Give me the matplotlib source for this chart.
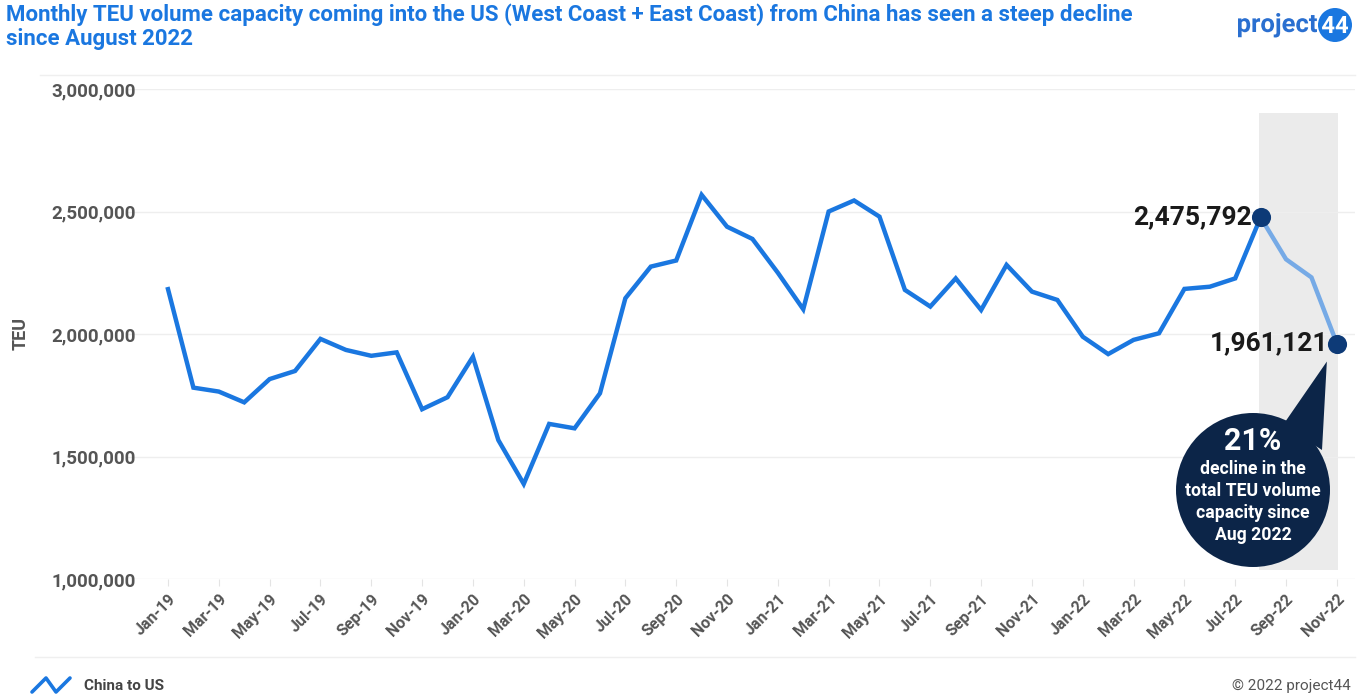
import matplotlib
matplotlib.use("Agg")
import matplotlib.pyplot as plt
from matplotlib.patches import Circle, Polygon, PathPatch
from matplotlib.lines import Line2D
from matplotlib.textpath import TextPath
from matplotlib.font_manager import FontProperties
from matplotlib.transforms import Affine2D
import numpy as np

# Monthly TEU volume capacity, China -> US (West Coast + East Coast)
month_names = ["Jan", "Feb", "Mar", "Apr", "May", "Jun",
               "Jul", "Aug", "Sep", "Oct", "Nov", "Dec"]
years = ["19", "20", "21", "22"]
months = [f"{m}-{y}" for y in years for m in month_names][:47]

teu = [2183000, 1781000, 1765000, 1721000, 1816000, 1849000,
       1980000, 1935000, 1911000, 1925000, 1693000, 1742000,
       1907000, 1567000, 1388000, 1633000, 1615000, 1758000,
       2146000, 2275000, 2300000, 2568000, 2438000, 2388000,
       2250000, 2101000, 2500000, 2545000, 2479000, 2180000,
       2112000, 2227000, 2098000, 2282000, 2173000, 2139000,
       1989000, 1918000, 1976000, 2003000, 2184000, 2193000,
       2227000, 2475792, 2305000, 2231000, 1961121]

peak_label = "Aug-22"
decline_pct = 21
y_ticks = [1000000, 1500000, 2000000, 2500000, 3000000]

BLUE = "#1a77e0"
LIGHT_BLUE = "#76aae6"
NAVY = "#0d3a77"
CALLOUT = "#0c2548"
GREY_TXT = "#555555"

plt.rcParams["font.family"] = ["Roboto", "DejaVu Sans"]

W, H = 1357, 697
fig = plt.figure(figsize=(W / 100, H / 100), dpi=100)


def fx(px):
    return px / W


def fy(py):
    return 1 - py / H


def fitted_text(s, x0, baseline, width, height, color, weight="bold"):
    """Draw text as a path stretched to a box (pixels, y from top)."""
    tp = TextPath((0, 0), s, size=100,
                  prop=FontProperties(family="Roboto", weight=weight))
    ext = tp.get_extents()
    sx = width / ext.width
    sy = height / ext.y1
    tr = (Affine2D().translate(-ext.x0, 0).scale(sx, sy)
          .translate(x0, H - baseline))
    patch = PathPatch(tr.transform_path(tp), color=color, lw=0,
                      transform=None)
    fig.add_artist(patch)


ax = fig.add_axes([fx(128), fy(579), fx(1355) - fx(128), fy(89) - fy(579)])

x = np.arange(len(teu))
i_peak = months.index(peak_label)
i_last = len(teu) - 1

# shaded decline window
ax.axvspan(i_peak - 0.05, i_last + 0.05, ymin=0.018, ymax=0.951,
           color="#ebebeb", zorder=0, lw=0)

ax.plot(x[:i_peak + 1], teu[:i_peak + 1], color=BLUE, lw=3.2,
        solid_joinstyle="miter", zorder=3)
ax.plot(x[i_peak:], teu[i_peak:], color=LIGHT_BLUE, lw=3.2,
        solid_joinstyle="miter", zorder=3)
ax.scatter([i_peak, i_last], [teu[i_peak], teu[i_last]], s=190,
           color=NAVY, zorder=5, lw=0)

for i in (i_peak, i_last):
    ax.annotate(f"{teu[i]:,}", (i, teu[i]), xytext=(-6, 0),
                textcoords="offset points", ha="right", va="center",
                fontsize=19, fontweight="bold", color="#1a1a1a", zorder=6)

ax.set_xlim((128 - 168) / 25.41, (1355 - 168) / 25.41)
ax.set_ylim(y_ticks[0], y_ticks[-1])
ax.set_yticks(y_ticks)
ax.set_yticklabels([f"{v:,}" for v in y_ticks], fontsize=13.5,
                   fontweight="bold", color=GREY_TXT)
ax.yaxis.grid(True, color="#eeeeee", lw=1)
ax.set_axisbelow(True)
ax.tick_params(axis="y", length=0, pad=-6)

ax.set_xticks(x[::2])
ax.set_xticklabels(months[::2], rotation=45, ha="right",
                   rotation_mode="anchor", fontsize=11.5,
                   fontweight="bold", color=GREY_TXT)
ax.tick_params(axis="x", length=5, color="#e4e4e4", pad=4)

for s in ax.spines.values():
    s.set_visible(False)

ax.set_ylabel("TEU", fontsize=13, fontweight="bold", color=GREY_TXT,
              labelpad=16)

# title
fig.text(fx(6), fy(3), "Monthly TEU volume capacity coming into the US "
         "(West Coast + East Coast) from China has seen a steep decline\n"
         "since August 2022", ha="left", va="top", fontsize=16,
         fontweight="bold", color=BLUE, linespacing=1.12)

# logo
fitted_text("project", 1238, 32, 79, 19, "#2a6fd0")
fig.add_artist(Circle((1335, H - 25), 17, transform=None,
                      color=BLUE, lw=0))
fitted_text("44", 1322, 33, 26, 17, "white")

# separators
fig.add_artist(Line2D([fx(40), fx(1355)], [fy(75), fy(75)],
                      color="#efefef", lw=1))
fig.add_artist(Line2D([fx(35), fx(1355)], [fy(657), fy(657)],
                      color="#efefef", lw=1))

# callout bubble
cx, cy, r = 1253, 490, 77
fig.canvas.draw()
tip = ax.transData.transform((i_last, teu[i_last]))
tip_px = (tip[0] - 10, H - tip[1] + 18)
tri = Polygon([(fx(tip_px[0]), fy(tip_px[1])),
               (fx(1283), fy(425)), (fx(1322), fy(450))],
              closed=True, transform=fig.transFigure, color=CALLOUT,
              lw=0)
fig.add_artist(tri)
fig.add_artist(Circle((cx, H - cy), r, transform=None, color=CALLOUT,
                      lw=0))
fig.text(fx(cx), fy(441), f"{decline_pct}%", ha="center", va="center",
         fontsize=22, fontweight="bold", color="white")
fig.text(fx(cx), fy(502), "decline in the\ntotal TEU volume\n"
         "capacity since\nAug 2022", ha="center", va="center",
         fontsize=12.7, fontweight="bold", color="white",
         linespacing=1.3)

# legend
fig.add_artist(Line2D([fx(32), fx(46), fx(56), fx(70)],
                      [fy(692), fy(678), fy(692), fy(678)],
                      color=BLUE, lw=2.6, solid_capstyle="round",
                      solid_joinstyle="round"))
fig.text(fx(84), fy(686), "China to US", ha="left", va="center",
         fontsize=11, fontweight="bold", color="#444444")
fig.text(fx(1351), fy(686), "\u00a9 2022 project44", ha="right",
         va="center", fontsize=11, color="#555555")

fig.savefig("out.png", dpi=100)
